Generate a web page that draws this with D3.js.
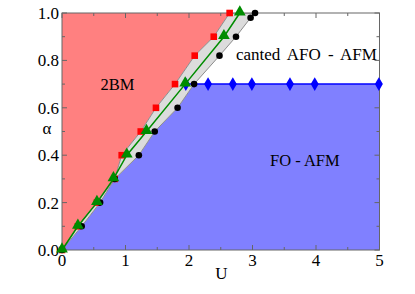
<!DOCTYPE html>
<html>
<head>
<meta charset="utf-8">
<script src="https://cdn.jsdelivr.net/npm/d3@7/dist/d3.min.js"></script>
<style>
html,body{margin:0;padding:0;background:#fff;}
text{font-family:"Liberation Serif","Times New Roman",serif;}
</style>
</head>
<body>
<svg id="chart" width="415" height="294"></svg>
<script>
// ---- data ----
const redU   = [0, 0.25, 0.55, 0.83, 0.94, 1.24, 1.48, 1.78, 2.09, 2.39, 2.64];
const redA   = [0, 0.10, 0.20, 0.30, 0.40, 0.50, 0.60, 0.70, 0.82, 0.90, 1.00];
const blackU = [0, 0.31, 0.60, 0.83, 1.21, 1.46, 1.82, 2.08, 2.48, 2.74, 2.97, 3.04];
const blackA = [0, 0.10, 0.20, 0.30, 0.40, 0.50, 0.60, 0.70, 0.82, 0.90, 0.98, 1.00];
const greenU = [0, 0.25, 0.55, 0.81, 1.02, 1.33, 1.94, 2.55, 2.80];
const greenA = [0, 0.10, 0.20, 0.30, 0.40, 0.50, 0.70, 0.90, 1.00];
const diamondU = [1.95, 2.30, 2.69, 2.99, 3.59, 3.98, 4.99];
const diamondA = [0.70, 0.70, 0.70, 0.70, 0.70, 0.70, 0.70];
const xTicks = [0, 1, 2, 3, 4, 5];
const yTicks = [0, 0.2, 0.4, 0.6, 0.8, 1.0];
const regionLabels = ["2BM", "canted AFO - AFM", "FO - AFM"];

// ---- layout ----
const svg = d3.select("#chart");
const L = 62, R = 379.5, T = 13, B = 250;
const x = d3.scaleLinear().domain([0, 5]).range([L, R]);
const y = d3.scaleLinear().domain([0, 1]).range([B, T]);

const red = redU.map((u, i) => [u, redA[i]]);
const black = blackU.map((u, i) => [u, blackA[i]]);
const green = greenU.map((u, i) => [u, greenA[i]]);
const diam = diamondU.map((u, i) => [u, diamondA[i]]);

svg.append("clipPath").attr("id", "clip").append("rect")
  .attr("x", L).attr("y", T).attr("width", R - L).attr("height", B - T);
const plot = svg.append("g").attr("clip-path", "url(#clip)");
const line = d3.line().x(d => x(d[0])).y(d => y(d[1]));

// pink region (2BM)
plot.append("path").attr("d", line([[0, 0], ...red, [0, 1]]) + "Z").attr("fill", "#ff8080");

// blue region (FO - AFM)
const bl = black.filter(d => d[1] <= 0.7);
plot.append("path").attr("d", line([...bl, [5, 0.7], [5, 0]]) + "Z").attr("fill", "#8080ff");

// gray band
plot.append("path").attr("d", line([...red, ...black.slice().reverse()]) + "Z")
  .attr("fill", "#dcdcdc").attr("stroke", "#8c8c8c").attr("stroke-width", 1);

// blue line at alpha=0.7
plot.append("path").attr("d", line(diam)).attr("fill", "none")
  .attr("stroke", "#0000ff").attr("stroke-width", 1.5);

// axes frame and ticks
const axColor = "#666";
const g = svg.append("g");
g.append("rect").attr("x", L).attr("y", T).attr("width", R - L).attr("height", B - T)
  .attr("fill", "none").attr("stroke", axColor).attr("stroke-width", 1);

const xMinor = d3.range(0, 5.01, 0.5);
const yMinor = d3.range(0, 1.001, 0.1);
xMinor.forEach((v, i) => {
  const len = (i % 2 === 0) ? 5 : 3;
  g.append("line").attr("x1", x(v)).attr("x2", x(v)).attr("y1", B).attr("y2", B - len).attr("stroke", axColor);
  g.append("line").attr("x1", x(v)).attr("x2", x(v)).attr("y1", T).attr("y2", T + len).attr("stroke", axColor);
});
yMinor.forEach((v, i) => {
  const len = (i % 2 === 0) ? 5 : 3;
  g.append("line").attr("y1", y(v)).attr("y2", y(v)).attr("x1", L).attr("x2", L + len).attr("stroke", axColor);
  g.append("line").attr("y1", y(v)).attr("y2", y(v)).attr("x1", R).attr("x2", R - len).attr("stroke", axColor);
});

// tick labels
xTicks.forEach(v => {
  svg.append("text").attr("x", x(v)).attr("y", 266).attr("text-anchor", "middle")
    .attr("font-size", 17).text(d3.format("d")(v));
});
yTicks.forEach(v => {
  svg.append("text").attr("x", 59).attr("y", y(v) + 6).attr("text-anchor", "end")
    .attr("font-size", 17).text(d3.format(".1f")(v));
});
svg.append("text").attr("x", 221.5).attr("y", 279).attr("text-anchor", "middle")
  .attr("font-size", 17).text("U");
svg.append("text").attr("x", 47).attr("y", 134).attr("text-anchor", "middle")
  .attr("font-size", 17).text("α");

// markers
const sym = (type, size) => d3.symbol().type(type).size(size)();
svg.append("g").selectAll("path").data(diam).join("path")
  .attr("transform", d => `translate(${x(d[0])},${y(d[1])})`)
  .attr("d", sym(d3.symbolDiamond, 55)).attr("fill", "#0000ff");
svg.append("g").selectAll("rect").data(red).join("rect")
  .attr("x", d => x(d[0]) - 3.3).attr("y", d => y(d[1]) - 3.3)
  .attr("width", 6.6).attr("height", 6.6).attr("fill", "#ff0000");
svg.append("g").selectAll("circle").data(black).join("circle")
  .attr("cx", d => x(d[0])).attr("cy", d => y(d[1])).attr("r", 3.3).attr("fill", "#000");
svg.append("path").attr("d", line(green)).attr("fill", "none")
  .attr("stroke", "#008c00").attr("stroke-width", 1.5);
svg.append("g").selectAll("path").data(green).join("path")
  .attr("transform", d => `translate(${x(d[0])},${y(d[1]) - 1})`)
  .attr("d", sym(d3.symbolTriangle, 60)).attr("fill", "#008c00");

// region labels
svg.append("text").attr("x", 117.5).attr("y", 90).attr("text-anchor", "middle")
  .attr("font-size", 16.5).text(regionLabels[0]);
svg.append("text").attr("x", 236).attr("y", 60).attr("text-anchor", "start")
  .attr("font-size", 17).attr("word-spacing", 3).text(regionLabels[1]);
svg.append("text").attr("x", 270).attr("y", 166).attr("text-anchor", "start")
  .attr("font-size", 16.5).text(regionLabels[2]);
</script>
</body>
</html>
